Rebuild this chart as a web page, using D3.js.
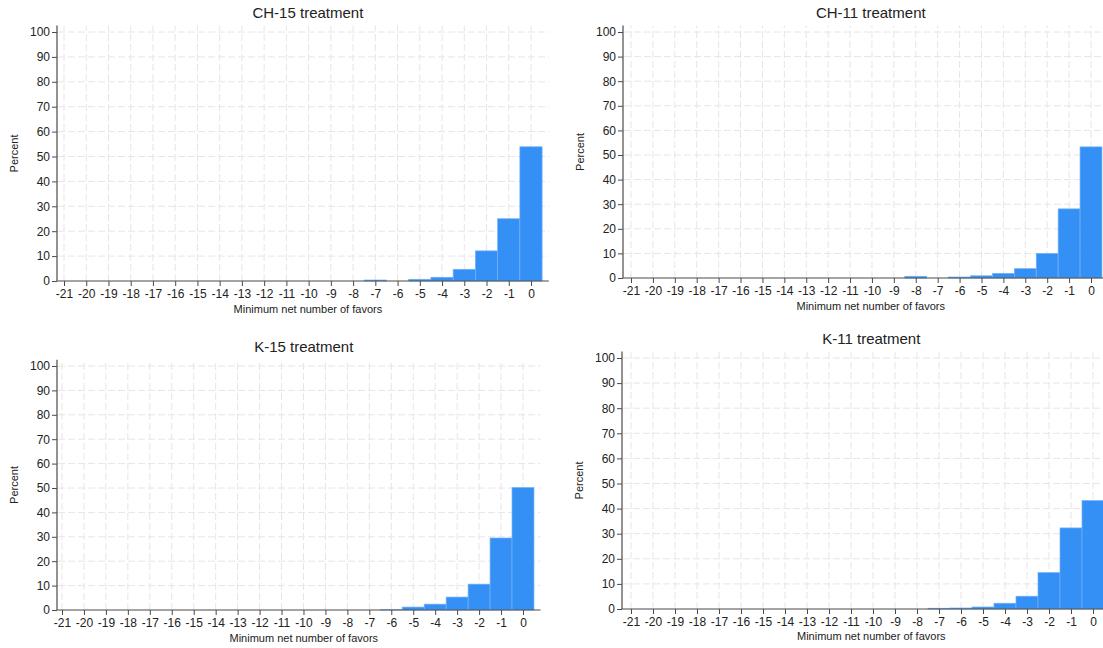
<!DOCTYPE html>
<html>
<head>
<meta charset="utf-8">
<script src="https://cdn.jsdelivr.net/npm/d3@7"></script>
<style>
  html, body { margin: 0; padding: 0; background: #fff; }
  svg { display: block; }
  text { font-family: "Liberation Sans", Arial, Helvetica, sans-serif; fill: #222; }
</style>
</head>
<body>
<svg id="chart" width="1103" height="648"></svg>
<script>
// ---- data ----
const categories = [-21,-20,-19,-18,-17,-16,-15,-14,-13,-12,-11,-10,-9,-8,-7,-6,-5,-4,-3,-2,-1,0];
const yTicks = [0,10,20,30,40,50,60,70,80,90,100];
const titles = ["CH-15 treatment", "CH-11 treatment", "K-15 treatment", "K-11 treatment"];
const xAxisTitle = "Minimum net number of favors";
const yAxisTitle = "Percent";
//                -21 -20 -19 -18 -17 -16 -15 -14 -13 -12 -11 -10 -9  -8  -7   -6   -5   -4   -3   -2    -1    0
const ch15Values = [0,  0,  0,  0,  0,  0,  0,  0,  0,  0,  0,  0,  0,  0,  0.4, 0,   0.7, 1.5, 4.7, 12.1, 25.0, 53.9];
const ch11Values = [0,  0,  0,  0,  0,  0,  0,  0,  0,  0,  0,  0,  0,  0.7,0,   0.4, 0.9, 1.9, 3.8, 10.0, 28.1, 53.3];
const k15Values  = [0,  0,  0,  0,  0,  0,  0,  0,  0,  0,  0,  0,  0,  0,  0,   0.1, 1.2, 2.4, 5.3, 10.6, 29.5, 50.2];
const k11Values  = [0,  0,  0,  0,  0,  0,  0,  0,  0,  0,  0,  0,  0,  0,  0.3, 0.4, 0.8, 2.3, 5.1, 14.5, 32.3, 43.2];

// ---- layout (positions only) ----
const panels = [
  { title: titles[0], values: ch15Values, ax: 57,  xL: 64,  xR: 531,  y100: 32,  y0: 281, titleY: 18,  xlabY: 313, pctX: 18 },
  { title: titles[1], values: ch11Values, ax: 623, xL: 631, xR: 1091, y100: 32,  y0: 278, titleY: 18,  xlabY: 310, pctX: 584 },
  { title: titles[2], values: k15Values,  ax: 57,  xL: 62,  xR: 523,  y100: 366, y0: 610, titleY: 352, xlabY: 642, pctX: 18 },
  { title: titles[3], values: k11Values,  ax: 622, xL: 631, xR: 1093, y100: 358, y0: 609, titleY: 344, xlabY: 640, pctX: 583 }
];

const svg = d3.select("#chart");
const barFill = "#3590f6";
const barStroke = "#74b1f8";
const gridColor = "#e6e6e6";
const axisColor = "#4a4a4a";

panels.forEach(p => {
  const x = d3.scaleLinear().domain([categories[0], categories[categories.length-1]]).range([p.xL, p.xR]);
  const y = d3.scaleLinear().domain([0, 100]).range([p.y0, p.y100]);
  const unit = x(1) - x(0);
  const xEnd = x(0.8);
  const yTop = y(102.6);
  const g = svg.append("g");

  // grid
  g.append("g").selectAll("line").data(yTicks.filter(v => v > 0)).join("line")
    .attr("x1", p.ax + 1).attr("x2", xEnd).attr("y1", d => y(d)).attr("y2", d => y(d))
    .attr("stroke", gridColor).attr("stroke-width", 1).attr("stroke-dasharray", "7,3");
  g.append("g").selectAll("line").data(categories).join("line")
    .attr("x1", d => x(d)).attr("x2", d => x(d)).attr("y1", p.y0).attr("y2", yTop)
    .attr("stroke", gridColor).attr("stroke-width", 1).attr("stroke-dasharray", "7,3");

  // bars
  g.append("g").selectAll("rect").data(categories.map((c, i) => ({ c, v: p.values[i] })).filter(d => d.v > 0)).join("rect")
    .attr("x", d => x(d.c - 0.5)).attr("width", unit)
    .attr("y", d => y(d.v)).attr("height", d => y(0) - y(d.v))
    .attr("fill", barFill).attr("stroke", barStroke).attr("stroke-width", 0.7);

  // x axis
  const xAxis = d3.axisBottom(x).tickValues(categories).tickSize(5).tickPadding(3).tickFormat(d3.format("d"));
  const gx = g.append("g").attr("transform", `translate(0,${p.y0})`).call(xAxis);
  gx.select(".domain").remove();
  gx.append("line").attr("x1", p.ax).attr("x2", xEnd).attr("y1", 0).attr("y2", 0).attr("stroke", axisColor).attr("stroke-width", 1.2);
  gx.selectAll(".tick line").attr("stroke", axisColor);
  gx.selectAll(".tick text").attr("font-size", 12).attr("fill", "#222")
    .text(d => d < 0 ? "-" + Math.abs(d) : d);

  // y axis
  const yAxis = d3.axisLeft(y).tickValues(yTicks).tickSize(5).tickPadding(2);
  const gy = g.append("g").attr("transform", `translate(${p.ax},0)`).call(yAxis);
  gy.select(".domain").remove();
  gy.append("line").attr("x1", 0).attr("x2", 0).attr("y1", p.y0).attr("y2", yTop).attr("stroke", axisColor).attr("stroke-width", 1.2);
  gy.selectAll(".tick line").attr("stroke", axisColor);
  gy.selectAll(".tick text").attr("font-size", 12).attr("fill", "#222");

  // titles
  g.append("text").attr("x", (p.ax + xEnd) / 2 + 5).attr("y", p.titleY)
    .attr("text-anchor", "middle").attr("font-size", 15).text(p.title);
  g.append("text").attr("x", (p.ax + xEnd) / 2 + 5).attr("y", p.xlabY)
    .attr("text-anchor", "middle").attr("font-size", 11).text(xAxisTitle);
  const cy = (p.y0 + p.y100) / 2 - 3;
  g.append("text").attr("transform", `translate(${p.pctX},${cy}) rotate(-90)`)
    .attr("text-anchor", "middle").attr("font-size", 11).text(yAxisTitle);
});
</script>
</body>
</html>
